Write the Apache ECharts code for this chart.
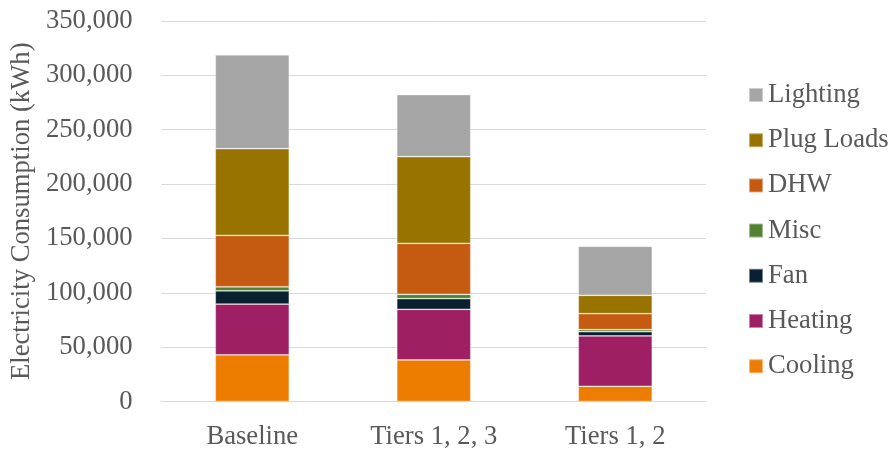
<!DOCTYPE html>
<html>
<head>
<meta charset="utf-8">
<script src="https://cdn.jsdelivr.net/npm/echarts@6/dist/echarts.min.js"></script>
<style>
  html, body { margin: 0; padding: 0; background: #fff; }
  #chart { width: 891px; height: 451px; }
</style>
</head>
<body>
<div id="chart"></div>
<script>
// Building scenarios on the category axis
var categories = ['Baseline', 'Tiers 1, 2, 3', 'Tiers 1, 2'];

// End-use electricity consumption, kWh (bottom of the stack first)
var cooling   = [43000, 38200, 14000];
var heating   = [46600, 46600, 46300];
var fan       = [12200, 9800, 3900];
var misc      = [3700, 4000, 1900];
var dhw       = [47300, 46900, 14700];
var plugLoads = [79700, 79700, 16900];
var lighting  = [86400, 57100, 45100];

var yTicks = { min: 0, max: 350000, interval: 50000 };

var seriesDefs = [
  { name: 'Cooling',    data: cooling,   color: '#ED7D00' },
  { name: 'Heating',    data: heating,   color: '#9E1F63' },
  { name: 'Fan',        data: fan,       color: '#08202F' },
  { name: 'Misc',       data: misc,      color: '#548235' },
  { name: 'DHW',        data: dhw,       color: '#C55A11' },
  { name: 'Plug Loads', data: plugLoads, color: '#997300' },
  { name: 'Lighting',   data: lighting,  color: '#A5A5A5' }
];

var font = '"Liberation Serif", "Times New Roman", serif';
var fontSize = 26.67;
var textColor = '#595959';
var gridColor = '#D9D9D9';

var chart = echarts.init(document.getElementById('chart'), null, { renderer: 'canvas' });

chart.setOption({
  animation: false,
  backgroundColor: '#ffffff',
  textStyle: { fontFamily: font, color: textColor },
  grid: { left: 156, right: 185, top: 21, bottom: 49.5, containLabel: false },
  legend: {
    orient: 'vertical',
    left: 748,
    top: 81.5,
    padding: 0,
    itemWidth: 14,
    itemHeight: 14,
    itemGap: 18.2,
    icon: 'rect',
    data: seriesDefs.map(function (s) { return s.name; }).reverse(),
    textStyle: { fontFamily: font, fontSize: fontSize, color: textColor, lineHeight: 27 }
  },
  xAxis: {
    type: 'category',
    data: categories,
    axisLine: { show: true, lineStyle: { color: gridColor, width: 1 } },
    axisTick: { show: false },
    axisLabel: { fontFamily: font, fontSize: fontSize, color: textColor, margin: 22 }
  },
  yAxis: {
    type: 'value',
    min: yTicks.min,
    max: yTicks.max,
    interval: yTicks.interval,
    name: 'Electricity Consumption (kWh)',
    nameLocation: 'middle',
    nameGap: 120,
    nameTextStyle: { fontFamily: font, fontSize: fontSize, color: textColor },
    axisLine: { show: false },
    axisTick: { show: false },
    splitLine: { show: true, lineStyle: { color: gridColor, width: 1 } },
    axisLabel: {
      fontFamily: font, fontSize: fontSize, color: textColor, margin: 29,
      formatter: function (v) { return v.toLocaleString('en-US'); }
    }
  },
  series: seriesDefs.map(function (s) {
    return {
      name: s.name,
      type: 'bar',
      stack: 'total',
      barWidth: 74,
      data: s.data,
      itemStyle: { color: s.color, borderColor: 'rgba(255,255,255,0.45)', borderWidth: 0.75 }
    };
  })
});
</script>
</body>
</html>
